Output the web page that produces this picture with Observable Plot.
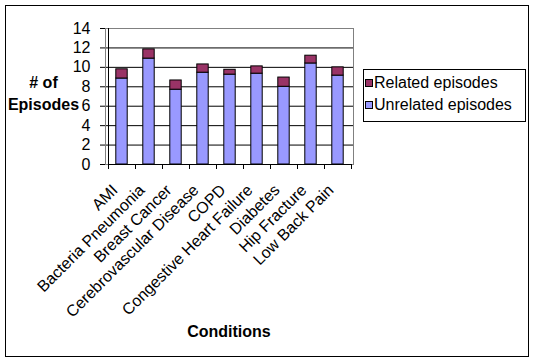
<!DOCTYPE html>
<html>
<head>
<meta charset="utf-8">
<script src="https://cdn.jsdelivr.net/npm/d3@7"></script>
<script src="https://cdn.jsdelivr.net/npm/@observablehq/plot@0.6"></script>
<style>
  html, body { margin: 0; padding: 0; background: #fff; }
  #wrap { position: relative; width: 535px; height: 362px; font-family: "Liberation Sans", Arial, sans-serif; }
  #wrap svg { position: absolute; left: 0; top: 0; }
  .abs { position: absolute; }
  #border { left: 5px; top: 5px; width: 524px; height: 352px; border: 1px solid #000; box-sizing: border-box; }
  #ylab { left: 0px; width: 87px; top: 72px; text-align: center; font-weight: bold; font-size: 16px; line-height: 22px; }
  #xlab { left: 129px; width: 200px; top: 323px; text-align: center; font-weight: bold; font-size: 16px; line-height: 18px; }
  #legend { left: 363px; top: 69px; width: 163px; height: 53px; border: 1px solid #000; box-sizing: border-box; background: #fff; }
  .sw { position: absolute; width: 8px; height: 8px; border: 1px solid #000; box-sizing: border-box; }
  .lt { position: absolute; font-size: 16px; line-height: 18px; white-space: nowrap; }
</style>
</head>
<body>
<div id="wrap"></div>
<script>
const conditions = ["AMI", "Bacteria Pneumonia", "Breast Cancer", "Cerebrovascular Disease", "COPD", "Congestive Heart Failure", "Diabetes", "Hip Fracture", "Low Back Pain"];
const unrelated = [8.85, 10.9, 7.7, 9.45, 9.25, 9.35, 8.0, 10.4, 9.15];
const related = [0.95, 0.95, 0.95, 0.85, 0.5, 0.75, 0.95, 0.8, 0.85];
const seriesNames = ["Unrelated episodes", "Related episodes"];
const seriesColors = ["#9999FF", "#993366"];
const yTicks = [0, 2, 4, 6, 8, 10, 12, 14];

const data = [];
conditions.forEach((c, i) => {
  data.push({condition: c, series: seriesNames[0], value: unrelated[i]});
  data.push({condition: c, series: seriesNames[1], value: related[i]});
});

// black axis lines + tick marks at category boundaries
function axisLines(index, scales, values, dims) {
  const g = d3.create("svg:g").attr("stroke", "#000").attr("shape-rendering", "crispEdges");
  const x0 = scales.x(conditions[0]);
  const step = scales.x(conditions[1]) - x0;
  const y0 = scales.y(0);
  const yTop = scales.y(14);
  const xEnd = x0 + conditions.length * step;
  g.append("line").attr("x1", x0).attr("x2", x0).attr("y1", yTop).attr("y2", y0);
  g.append("line").attr("x1", x0).attr("x2", xEnd).attr("y1", y0).attr("y2", y0);
  for (let i = 0; i <= conditions.length; i++) {
    const x = Math.round(x0 + i * step);
    g.append("line").attr("x1", x).attr("x2", x).attr("y1", y0).attr("y2", y0 + 5);
  }
  return g.node();
}

const chart = Plot.plot({
  width: 535,
  height: 362,
  marginLeft: 105,
  marginRight: 182,
  marginTop: 28,
  marginBottom: 198,
  style: {fontFamily: "'Liberation Sans', Arial, sans-serif", fontSize: "16px", background: "transparent"},
  x: {type: "band", domain: conditions, padding: 0},
  y: {domain: [0, 14]},
  color: {domain: seriesNames, range: seriesColors},
  marks: [
    Plot.gridY(yTicks, {stroke: "#000", strokeOpacity: 1}),
    Plot.frame({stroke: "#808080"}),
    Plot.barY(data, {x: "condition", y: "value", fill: "series", order: seriesNames, stroke: "#000", strokeWidth: 1, insetLeft: 7.8, insetRight: 7.8}),
    Plot.axisY({ticks: yTicks, tickSize: 5, tickPadding: 10, label: null, fontSize: 16, fill: "#000"}),
    Plot.axisX({tickSize: 0, tickRotate: -45, tickPadding: 23, dx: -7, label: null, fontSize: 16, fill: "#000"}),
    axisLines
  ]
});

const wrap = document.getElementById("wrap");
wrap.appendChild(chart);

function add(cls, id, html) {
  const d = document.createElement("div");
  d.className = cls; if (id) d.id = id;
  if (html != null) d.innerHTML = html;
  wrap.appendChild(d);
  return d;
}
add("abs", "border");
add("abs", "ylab", "# of<br>Episodes");
add("abs", "xlab", "Conditions");
add("abs", "legend");
[1, 0].forEach((k, row) => {
  const sw = add("sw");
  sw.style.left = "365px";
  sw.style.top = (79 + row * 22) + "px";
  sw.style.background = seriesColors[k];
  const t = add("lt");
  t.textContent = seriesNames[k];
  t.style.left = "374px";
  t.style.top = (74 + row * 22) + "px";
});
</script>
</body>
</html>
